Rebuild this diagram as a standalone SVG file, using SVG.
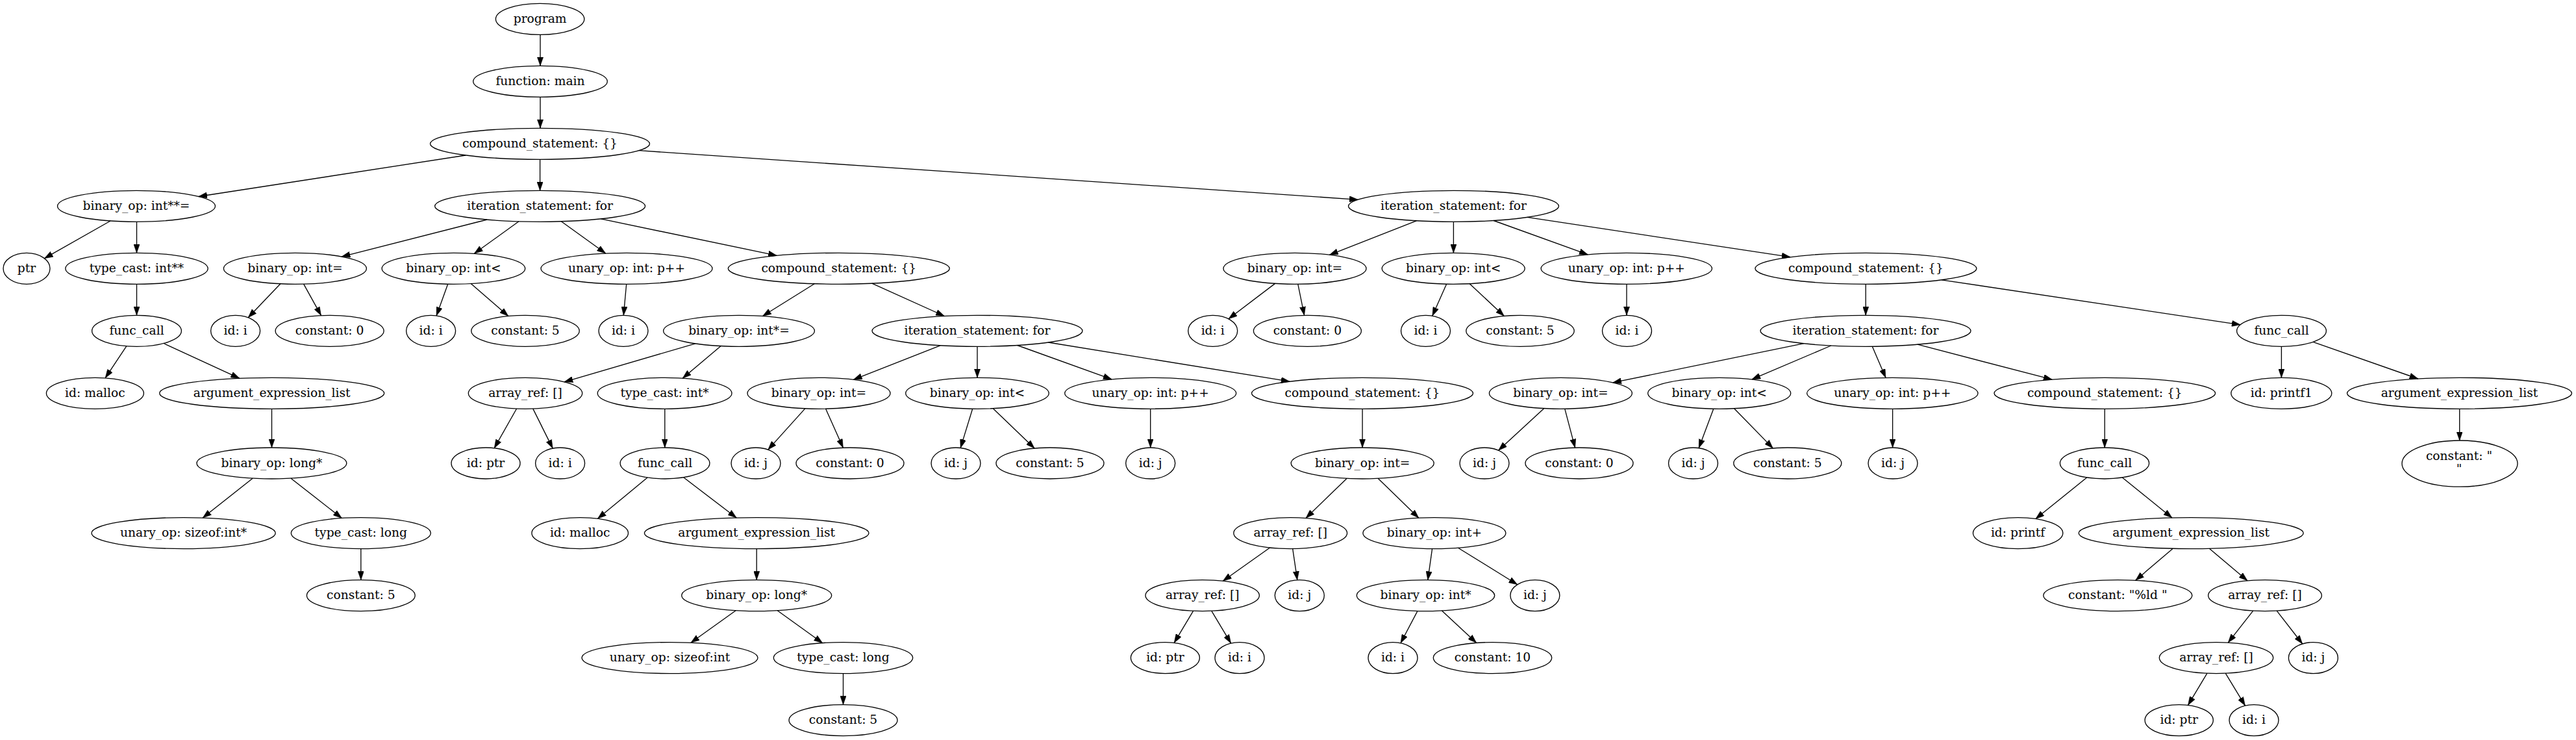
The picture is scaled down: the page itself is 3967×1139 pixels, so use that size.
<svg xmlns="http://www.w3.org/2000/svg" width="3967" height="1139" viewBox="0 0 3967 1139">
<style>
.n ellipse{fill:none;stroke:#000;stroke-width:1.33}
.n text{font-family:"DejaVu Serif","Liberation Serif",serif;font-size:18.67px;text-anchor:middle;fill:#000}
.e path{fill:none;stroke:#000;stroke-width:1.33;marker-end:url(#a)}
</style>
<defs>
<marker id="a" markerUnits="userSpaceOnUse" viewBox="0 0 13.33 9.33" refX="13.33" refY="4.67" markerWidth="13.33" markerHeight="9.33" orient="auto">
<path d="M0,0 L13.33,4.67 L0,9.33 z" fill="#000" stroke="#000" stroke-width="0.5"/>
</marker>
</defs>
<rect width="3967" height="1139" fill="#fff"/>
<g id="edges" class="e">
<path d="M832,53.3 L832,101.3"/>
<path d="M832,149.3 L832,197.3"/>
<path d="M717.1,239 L305.7,302.5"/>
<path d="M831.6,245.3 L831.6,293.3"/>
<path d="M983.8,231.7 L2091.4,307.3"/>
<path d="M170.1,340 L68.4,397.7"/>
<path d="M210.5,341.3 L210.5,389.3"/>
<path d="M210.5,437.3 L210.5,485.3"/>
<path d="M194.9,532.7 L162.1,581.8"/>
<path d="M252,528.5 L368.9,582.3"/>
<path d="M418.5,629.3 L418.5,689"/>
<path d="M389.1,736.2 L312.2,797.1"/>
<path d="M448,736.2 L526.3,797.5"/>
<path d="M555.8,844.6 L555.8,892.6"/>
<path d="M750.1,338 L526,395.1"/>
<path d="M799,340.8 L730.3,390.3"/>
<path d="M864.3,340.8 L932.7,390"/>
<path d="M925.4,336.9 L1196.4,393.4"/>
<path d="M431.9,436.8 L382.2,488.8"/>
<path d="M467.6,437.1 L494.5,485.6"/>
<path d="M689.7,437.2 L672.1,485.9"/>
<path d="M725.2,436.6 L782.8,486.5"/>
<path d="M964.7,437.3 L960.3,485.3"/>
<path d="M1254.3,436.7 L1174.5,486.5"/>
<path d="M1342.7,436.2 L1454.4,486.5"/>
<path d="M1070.8,528.9 L869,587.8"/>
<path d="M1110.2,532.6 L1051.2,582.2"/>
<path d="M795.6,629 L761.2,689.8"/>
<path d="M820.8,629.1 L851.2,690.1"/>
<path d="M1023.8,629.3 L1023.8,689"/>
<path d="M997.1,735.1 L920.4,798.3"/>
<path d="M1052.6,734.8 L1134.2,797"/>
<path d="M1165.2,844.6 L1165.2,892.6"/>
<path d="M1133.1,939.7 L1063.9,989.3"/>
<path d="M1197.2,939.7 L1266.7,989.7"/>
<path d="M1298.5,1036.6 L1298.5,1084.6"/>
<path d="M1447.9,531.8 L1314.3,584.3"/>
<path d="M1505,533.3 L1505,581.3"/>
<path d="M1566.7,531.5 L1712.2,583.9"/>
<path d="M1614.4,527 L1986.1,587.2"/>
<path d="M1239.8,628.9 L1182.8,692.1"/>
<path d="M1271.6,629.2 L1298.4,689.2"/>
<path d="M1497.7,629.2 L1479.2,689.4"/>
<path d="M1529.3,628.7 L1593.1,690"/>
<path d="M1771.7,629.3 L1771.7,689"/>
<path d="M2098.1,629.3 L2098.1,689"/>
<path d="M2074,736.4 L2011,797.5"/>
<path d="M2122.3,736.4 L2184.8,797.2"/>
<path d="M1955.6,843 L1883.3,894.2"/>
<path d="M1990.7,844.6 L1997.8,892.7"/>
<path d="M1837.6,940.3 L1808.2,989.4"/>
<path d="M1865.8,940.3 L1895.6,990.1"/>
<path d="M2205.6,844.4 L2198.8,892.8"/>
<path d="M2245.4,843.2 L2336.8,899.8"/>
<path d="M2183,940.4 L2157,989.8"/>
<path d="M2220.5,939.9 L2273.7,989.5"/>
<path d="M2181.3,339.8 L2047.4,392.3"/>
<path d="M2238.4,341.3 L2238.4,389.3"/>
<path d="M2300.1,339.5 L2445.4,391.9"/>
<path d="M2351.9,334.4 L2757.2,395.7"/>
<path d="M1963.6,436.4 L1892,490.8"/>
<path d="M1998.8,437.3 L2008.6,485.3"/>
<path d="M2227.6,437.2 L2205.8,486.2"/>
<path d="M2263.2,436.7 L2316.4,486.4"/>
<path d="M2505,437.3 L2505,485.3"/>
<path d="M2873.2,437.3 L2873.2,485.3"/>
<path d="M2990.1,430.8 L3450.2,499.8"/>
<path d="M2777.9,528.7 L2483.7,588.9"/>
<path d="M2819.8,532 L2697.8,583.9"/>
<path d="M2883.3,533.3 L2904,581.4"/>
<path d="M2953,530.2 L3160.3,584.2"/>
<path d="M2377.9,628.6 L2307.6,693.2"/>
<path d="M2409.8,629.3 L2425.6,689.1"/>
<path d="M2638.8,629.2 L2616.2,689.6"/>
<path d="M2670.6,628.8 L2730.3,689.9"/>
<path d="M2914.6,629.3 L2914.6,689"/>
<path d="M3241.2,629.3 L3241.2,689"/>
<path d="M3213.7,735 L3134.9,798.6"/>
<path d="M3268.3,735 L3344.9,796.9"/>
<path d="M3346.3,844.3 L3288.7,893.3"/>
<path d="M3402.3,844.3 L3461,893.8"/>
<path d="M3469.7,940.1 L3431.3,989.1"/>
<path d="M3506.2,940.1 L3545.7,991"/>
<path d="M3398.9,1036.3 L3369.5,1085.4"/>
<path d="M3427.3,1036.3 L3457.5,1086.2"/>
<path d="M3513.4,533.3 L3513.4,581.3"/>
<path d="M3562.1,526.3 L3723.8,583"/>
<path d="M3787.7,629.3 L3787.7,678"/>
</g>
<g id="n0" class="n"><ellipse cx="831.6" cy="29.3" rx="68.2" ry="24"/><text x="831.6" y="34.8">program</text></g>
<g id="n1" class="n"><ellipse cx="832" cy="125.3" rx="103.3" ry="24"/><text x="832" y="130.8">function: main</text></g>
<g id="n2" class="n"><ellipse cx="831.5" cy="221.3" rx="169" ry="24"/><text x="831.5" y="226.8">compound_statement: {}</text></g>
<g id="n3" class="n"><ellipse cx="210" cy="317.3" rx="121.5" ry="24"/><text x="210" y="322.8">binary_op: int**=</text></g>
<g id="n4" class="n"><ellipse cx="831.6" cy="317.3" rx="162" ry="24"/><text x="831.6" y="322.8">iteration_statement: for</text></g>
<g id="n5" class="n"><ellipse cx="2238.5" cy="317.3" rx="162" ry="24"/><text x="2238.5" y="322.8">iteration_statement: for</text></g>
<g id="n6" class="n"><ellipse cx="41" cy="413.3" rx="36" ry="24"/><text x="41" y="418.8">ptr</text></g>
<g id="n7" class="n"><ellipse cx="210.5" cy="413.3" rx="109.7" ry="24"/><text x="210.5" y="418.8">type_cast: int**</text></g>
<g id="n8" class="n"><ellipse cx="454.4" cy="413.3" rx="110" ry="24"/><text x="454.4" y="418.8">binary_op: int=</text></g>
<g id="n9" class="n"><ellipse cx="698.4" cy="413.3" rx="110.3" ry="24"/><text x="698.4" y="418.8">binary_op: int&lt;</text></g>
<g id="n10" class="n"><ellipse cx="965" cy="413.3" rx="132" ry="24"/><text x="965" y="418.8">unary_op: int: p++</text></g>
<g id="n11" class="n"><ellipse cx="1291.8" cy="413.3" rx="170.5" ry="24"/><text x="1291.8" y="418.8">compound_statement: {}</text></g>
<g id="n12" class="n"><ellipse cx="1994" cy="413.3" rx="110" ry="24"/><text x="1994" y="418.8">binary_op: int=</text></g>
<g id="n13" class="n"><ellipse cx="2238.2" cy="413.3" rx="110" ry="24"/><text x="2238.2" y="418.8">binary_op: int&lt;</text></g>
<g id="n14" class="n"><ellipse cx="2504.8" cy="413.3" rx="131.7" ry="24"/><text x="2504.8" y="418.8">unary_op: int: p++</text></g>
<g id="n15" class="n"><ellipse cx="2873.4" cy="413.3" rx="170.5" ry="24"/><text x="2873.4" y="418.8">compound_statement: {}</text></g>
<g id="n16" class="n"><ellipse cx="210.5" cy="509.3" rx="68.9" ry="24"/><text x="210.5" y="514.8">func_call</text></g>
<g id="n17" class="n"><ellipse cx="362.6" cy="509.3" rx="38" ry="24"/><text x="362.6" y="514.8">id: i</text></g>
<g id="n18" class="n"><ellipse cx="507.6" cy="509.3" rx="83.5" ry="24"/><text x="507.6" y="514.8">constant: 0</text></g>
<g id="n19" class="n"><ellipse cx="663.6" cy="509.3" rx="38" ry="24"/><text x="663.6" y="514.8">id: i</text></g>
<g id="n20" class="n"><ellipse cx="809" cy="509.3" rx="83.2" ry="24"/><text x="809" y="514.8">constant: 5</text></g>
<g id="n21" class="n"><ellipse cx="960" cy="509.3" rx="38" ry="24"/><text x="960" y="514.8">id: i</text></g>
<g id="n22" class="n"><ellipse cx="1138" cy="509.3" rx="116.4" ry="24"/><text x="1138" y="514.8">binary_op: int*=</text></g>
<g id="n23" class="n"><ellipse cx="1505" cy="509.3" rx="162" ry="24"/><text x="1505" y="514.8">iteration_statement: for</text></g>
<g id="n24" class="n"><ellipse cx="1867.7" cy="509.3" rx="38" ry="24"/><text x="1867.7" y="514.8">id: i</text></g>
<g id="n25" class="n"><ellipse cx="2013.4" cy="509.3" rx="83" ry="24"/><text x="2013.4" y="514.8">constant: 0</text></g>
<g id="n26" class="n"><ellipse cx="2195.5" cy="509.3" rx="38" ry="24"/><text x="2195.5" y="514.8">id: i</text></g>
<g id="n27" class="n"><ellipse cx="2341" cy="509.3" rx="83.2" ry="24"/><text x="2341" y="514.8">constant: 5</text></g>
<g id="n28" class="n"><ellipse cx="2505.5" cy="509.3" rx="38" ry="24"/><text x="2505.5" y="514.8">id: i</text></g>
<g id="n29" class="n"><ellipse cx="2873" cy="509.3" rx="162" ry="24"/><text x="2873" y="514.8">iteration_statement: for</text></g>
<g id="n30" class="n"><ellipse cx="3513.5" cy="509.3" rx="68.9" ry="24"/><text x="3513.5" y="514.8">func_call</text></g>
<g id="n31" class="n"><ellipse cx="146.4" cy="605.3" rx="75" ry="24"/><text x="146.4" y="610.8">id: malloc</text></g>
<g id="n32" class="n"><ellipse cx="418.7" cy="605.3" rx="173" ry="24"/><text x="418.7" y="610.8">argument_expression_list</text></g>
<g id="n33" class="n"><ellipse cx="809" cy="605.3" rx="87.7" ry="24"/><text x="809" y="610.8">array_ref: []</text></g>
<g id="n34" class="n"><ellipse cx="1023.6" cy="605.3" rx="103.4" ry="24"/><text x="1023.6" y="610.8">type_cast: int*</text></g>
<g id="n35" class="n"><ellipse cx="1261" cy="605.3" rx="110" ry="24"/><text x="1261" y="610.8">binary_op: int=</text></g>
<g id="n36" class="n"><ellipse cx="1505" cy="605.3" rx="110.3" ry="24"/><text x="1505" y="610.8">binary_op: int&lt;</text></g>
<g id="n37" class="n"><ellipse cx="1771.7" cy="605.3" rx="132" ry="24"/><text x="1771.7" y="610.8">unary_op: int: p++</text></g>
<g id="n38" class="n"><ellipse cx="2098" cy="605.3" rx="170.5" ry="24"/><text x="2098" y="610.8">compound_statement: {}</text></g>
<g id="n39" class="n"><ellipse cx="2403.4" cy="605.3" rx="110" ry="24"/><text x="2403.4" y="610.8">binary_op: int=</text></g>
<g id="n40" class="n"><ellipse cx="2647.7" cy="605.3" rx="110" ry="24"/><text x="2647.7" y="610.8">binary_op: int&lt;</text></g>
<g id="n41" class="n"><ellipse cx="2914.3" cy="605.3" rx="131.7" ry="24"/><text x="2914.3" y="610.8">unary_op: int: p++</text></g>
<g id="n42" class="n"><ellipse cx="3241.3" cy="605.3" rx="170.3" ry="24"/><text x="3241.3" y="610.8">compound_statement: {}</text></g>
<g id="n43" class="n"><ellipse cx="3513.3" cy="605.3" rx="77.5" ry="24"/><text x="3513.3" y="610.8">id: printf1</text></g>
<g id="n44" class="n"><ellipse cx="3787.5" cy="605.3" rx="173" ry="24"/><text x="3787.5" y="610.8">argument_expression_list</text></g>
<g id="n45" class="n"><ellipse cx="418.4" cy="713" rx="115.4" ry="24"/><text x="418.4" y="718.5">binary_op: long*</text></g>
<g id="n46" class="n"><ellipse cx="748" cy="713" rx="53" ry="24"/><text x="748" y="718.5">id: ptr</text></g>
<g id="n47" class="n"><ellipse cx="862.6" cy="713" rx="38" ry="24"/><text x="862.6" y="718.5">id: i</text></g>
<g id="n48" class="n"><ellipse cx="1024" cy="713" rx="68.9" ry="24"/><text x="1024" y="718.5">func_call</text></g>
<g id="n49" class="n"><ellipse cx="1164" cy="713" rx="38" ry="24"/><text x="1164" y="718.5">id: j</text></g>
<g id="n50" class="n"><ellipse cx="1309" cy="713" rx="83" ry="24"/><text x="1309" y="718.5">constant: 0</text></g>
<g id="n51" class="n"><ellipse cx="1472" cy="713" rx="38" ry="24"/><text x="1472" y="718.5">id: j</text></g>
<g id="n52" class="n"><ellipse cx="1617" cy="713" rx="83" ry="24"/><text x="1617" y="718.5">constant: 5</text></g>
<g id="n53" class="n"><ellipse cx="1771.7" cy="713" rx="38" ry="24"/><text x="1771.7" y="718.5">id: j</text></g>
<g id="n54" class="n"><ellipse cx="2098.2" cy="713" rx="110" ry="24"/><text x="2098.2" y="718.5">binary_op: int=</text></g>
<g id="n55" class="n"><ellipse cx="2286" cy="713" rx="38" ry="24"/><text x="2286" y="718.5">id: j</text></g>
<g id="n56" class="n"><ellipse cx="2432" cy="713" rx="83" ry="24"/><text x="2432" y="718.5">constant: 0</text></g>
<g id="n57" class="n"><ellipse cx="2607.5" cy="713" rx="38" ry="24"/><text x="2607.5" y="718.5">id: j</text></g>
<g id="n58" class="n"><ellipse cx="2752.8" cy="713" rx="83" ry="24"/><text x="2752.8" y="718.5">constant: 5</text></g>
<g id="n59" class="n"><ellipse cx="2915" cy="713" rx="38" ry="24"/><text x="2915" y="718.5">id: j</text></g>
<g id="n60" class="n"><ellipse cx="3241" cy="713" rx="68.6" ry="24"/><text x="3241" y="718.5">func_call</text></g>
<g id="n61" class="n"><ellipse cx="3788" cy="713.6" rx="89" ry="35.6"/><text x="3787" y="707.5">constant: "</text><text x="3787" y="728">"</text></g>
<g id="n62" class="n"><ellipse cx="282.6" cy="820.6" rx="141.6" ry="24"/><text x="282.6" y="826.1">unary_op: sizeof:int*</text></g>
<g id="n63" class="n"><ellipse cx="555.8" cy="820.6" rx="107.5" ry="24"/><text x="555.8" y="826.1">type_cast: long</text></g>
<g id="n64" class="n"><ellipse cx="893.2" cy="820.6" rx="74.3" ry="24"/><text x="893.2" y="826.1">id: malloc</text></g>
<g id="n65" class="n"><ellipse cx="1165.2" cy="820.6" rx="172.8" ry="24"/><text x="1165.2" y="826.1">argument_expression_list</text></g>
<g id="n66" class="n"><ellipse cx="1987.2" cy="820.6" rx="87.4" ry="24"/><text x="1987.2" y="826.1">array_ref: []</text></g>
<g id="n67" class="n"><ellipse cx="2208.9" cy="820.6" rx="110" ry="24"/><text x="2208.9" y="826.1">binary_op: int+</text></g>
<g id="n68" class="n"><ellipse cx="3107.6" cy="820.6" rx="69.2" ry="24"/><text x="3107.6" y="826.1">id: printf</text></g>
<g id="n69" class="n"><ellipse cx="3374.2" cy="820.6" rx="173" ry="24"/><text x="3374.2" y="826.1">argument_expression_list</text></g>
<g id="n70" class="n"><ellipse cx="555.8" cy="916.6" rx="83.4" ry="24"/><text x="555.8" y="922.1">constant: 5</text></g>
<g id="n71" class="n"><ellipse cx="1165.2" cy="916.6" rx="115.5" ry="24"/><text x="1165.2" y="922.1">binary_op: long*</text></g>
<g id="n72" class="n"><ellipse cx="1851.7" cy="916.6" rx="87.7" ry="24"/><text x="1851.7" y="922.1">array_ref: []</text></g>
<g id="n73" class="n"><ellipse cx="2001.3" cy="916.6" rx="38" ry="24"/><text x="2001.3" y="922.1">id: j</text></g>
<g id="n74" class="n"><ellipse cx="2195.5" cy="916.6" rx="106.2" ry="24"/><text x="2195.5" y="922.1">binary_op: int*</text></g>
<g id="n75" class="n"><ellipse cx="2363.9" cy="916.6" rx="38" ry="24"/><text x="2363.9" y="922.1">id: j</text></g>
<g id="n76" class="n"><ellipse cx="3261.3" cy="916.6" rx="114.5" ry="24"/><text x="3261.3" y="922.1">constant: "%ld "</text></g>
<g id="n77" class="n"><ellipse cx="3488" cy="916.6" rx="87.4" ry="24"/><text x="3488" y="922.1">array_ref: []</text></g>
<g id="n78" class="n"><ellipse cx="1031.5" cy="1012.6" rx="135.5" ry="24"/><text x="1031.5" y="1018.1">unary_op: sizeof:int</text></g>
<g id="n79" class="n"><ellipse cx="1298.5" cy="1012.6" rx="107.2" ry="24"/><text x="1298.5" y="1018.1">type_cast: long</text></g>
<g id="n80" class="n"><ellipse cx="1794.4" cy="1012.6" rx="53" ry="24"/><text x="1794.4" y="1018.1">id: ptr</text></g>
<g id="n81" class="n"><ellipse cx="1909" cy="1012.6" rx="38" ry="24"/><text x="1909" y="1018.1">id: i</text></g>
<g id="n82" class="n"><ellipse cx="2145" cy="1012.6" rx="38" ry="24"/><text x="2145" y="1018.1">id: i</text></g>
<g id="n83" class="n"><ellipse cx="2298.5" cy="1012.6" rx="91.2" ry="24"/><text x="2298.5" y="1018.1">constant: 10</text></g>
<g id="n84" class="n"><ellipse cx="3413" cy="1012.6" rx="87.7" ry="24"/><text x="3413" y="1018.1">array_ref: []</text></g>
<g id="n85" class="n"><ellipse cx="3562.4" cy="1012.6" rx="38" ry="24"/><text x="3562.4" y="1018.1">id: j</text></g>
<g id="n86" class="n"><ellipse cx="1298.5" cy="1108.6" rx="83.5" ry="24"/><text x="1298.5" y="1114.1">constant: 5</text></g>
<g id="n87" class="n"><ellipse cx="3355.7" cy="1108.6" rx="52.6" ry="24"/><text x="3355.7" y="1114.1">id: ptr</text></g>
<g id="n88" class="n"><ellipse cx="3471" cy="1108.6" rx="38" ry="24"/><text x="3471" y="1114.1">id: i</text></g>
</svg>
